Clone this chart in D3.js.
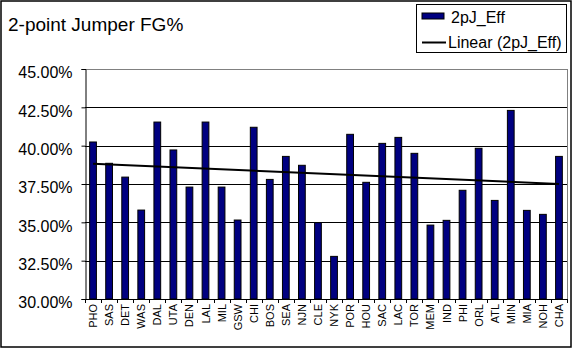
<!DOCTYPE html>
<html><head><meta charset="utf-8">
<script src="https://cdn.jsdelivr.net/npm/d3@7"></script>
<style>body{margin:0;background:#fff}svg{display:block;font-family:"Liberation Sans",Arial,sans-serif}</style>
</head><body><svg id="c" width="573" height="349"></svg>
<script>
const teams = ["PHO","SAS","DET","WAS","DAL","UTA","DEN","LAL","MIL","GSW","CHI","BOS","SEA","NJN","CLE","NYK","POR","HOU","SAC","LAC","TOR","MEM","IND","PHI","ORL","ATL","MIN","MIA","NOH","CHA"];
const values = [40.24,38.85,37.95,35.8,41.54,39.72,37.3,41.54,37.3,35.15,41.2,37.8,39.3,38.72,34.98,32.78,40.74,37.61,40.15,40.54,39.5,34.82,35.13,37.09,39.83,36.43,42.3,35.78,35.52,39.3];
const yTicks = [30,32.5,35,37.5,40,42.5,45];
const title = "2-point Jumper FG%";
const seriesName = "2pJ_Eff";
const trendName = "Linear (2pJ_Eff)";

const svg = d3.select("#c");
const L=85,R=567,T=69,B=299;
const x = d3.scaleBand().domain(teams).range([L,R]);
const y = d3.scaleLinear().domain([30,45]).range([B,T]);

// outer frame
svg.append("rect").attr("x",1).attr("y",1).attr("width",570).attr("height",346)
  .attr("fill","#fff").attr("stroke","#000").attr("stroke-width",1.5);

// title
svg.append("text").attr("x",8).attr("y",31).attr("font-size",19).text(title);

// gridlines
svg.append("g").selectAll("line").data(yTicks.filter(d=>d>30&&d<45)).join("line")
  .attr("x1",L).attr("x2",R).attr("y1",d=>Math.round(y(d))+0.5).attr("y2",d=>Math.round(y(d))+0.5)
  .attr("stroke","#000");
// plot border top/right gray
svg.append("line").attr("x1",L).attr("x2",R).attr("y1",T+0.5).attr("y2",T+0.5).attr("stroke","#808080");
svg.append("line").attr("x1",R+0.5).attr("x2",R+0.5).attr("y1",T).attr("y2",B).attr("stroke","#808080");

// bars
const bw = x.bandwidth()*0.42;
svg.append("g").selectAll("rect").data(teams).join("rect")
  .attr("x",(d)=>x(d)+x.bandwidth()/2-bw/2)
  .attr("y",(d,i)=>y(values[i]))
  .attr("width",bw)
  .attr("height",(d,i)=>B-y(values[i]))
  .attr("fill","#000080").attr("stroke","#000").attr("stroke-width",1);

// trendline (least squares over category index)
const n=values.length;
const xs=values.map((v,i)=>i+1);
const mx=d3.mean(xs), my=d3.mean(values);
const slope=d3.sum(xs.map((xi,i)=>(xi-mx)*(values[i]-my)))/d3.sum(xs.map(xi=>(xi-mx)**2));
const icpt=my-slope*mx;
svg.append("line")
  .attr("x1",x(teams[0])+x.bandwidth()/2).attr("y1",y(icpt+slope*1))
  .attr("x2",x(teams[n-1])+x.bandwidth()/2).attr("y2",y(icpt+slope*n))
  .attr("stroke","#000").attr("stroke-width",2);

// y axis
const ya = d3.axisLeft(y).tickValues(yTicks).tickSize(4).tickPadding(9).tickFormat(d=>d.toFixed(2)+"%");
const gy = svg.append("g").attr("transform",`translate(${L+0.5},0)`).call(ya);
gy.select(".domain").attr("stroke","#000");
gy.selectAll("text").attr("font-size",16).attr("font-family","Liberation Sans, Arial, sans-serif").attr("fill","#000").attr("dy","0.55em");

// x axis
svg.append("line").attr("x1",L).attr("x2",R+1).attr("y1",B+0.5).attr("y2",B+0.5).attr("stroke","#000");
svg.append("g").selectAll("line").data(d3.range(teams.length+1)).join("line")
  .attr("x1",i=>Math.round(L+i*x.step())+0.5).attr("x2",i=>Math.round(L+i*x.step())+0.5)
  .attr("y1",B).attr("y2",B+4).attr("stroke","#000");
svg.append("g").selectAll("text").data(teams).join("text")
  .attr("transform",d=>`translate(${x(d)+x.bandwidth()/2+4},${B+5}) rotate(-90)`)
  .attr("text-anchor","end").attr("font-size",11).text(d=>d);

// legend
const lg = svg.append("g");
lg.append("rect").attr("x",416.5).attr("y",4.5).attr("width",150).attr("height",48).attr("fill","#fff").attr("stroke","#000");
lg.append("rect").attr("x",422).attr("y",13).attr("width",22).attr("height",6).attr("fill","#000080").attr("stroke","#000");
lg.append("text").attr("x",451).attr("y",23).attr("font-size",16).text(seriesName);
lg.append("line").attr("x1",422).attr("x2",446).attr("y1",42.5).attr("y2",42.5).attr("stroke","#000").attr("stroke-width",2);
lg.append("text").attr("x",448).attr("y",48).attr("font-size",16).text(trendName);
</script></body></html>
